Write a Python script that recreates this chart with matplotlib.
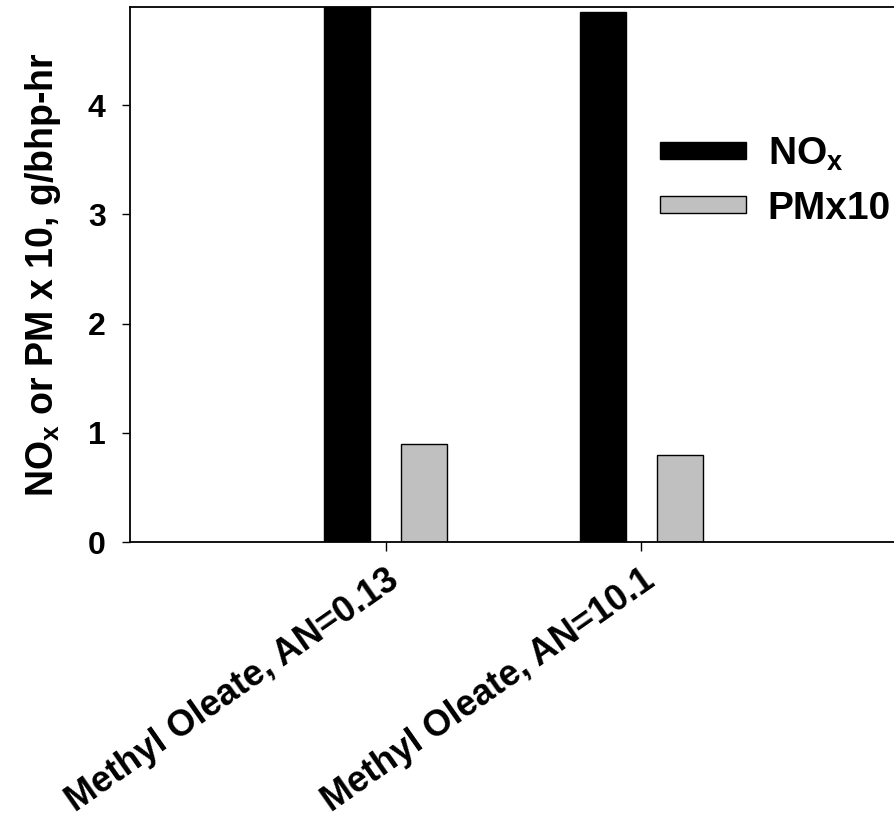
import matplotlib.pyplot as plt
import numpy as np

plt.rcParams['font.family'] = ['Liberation Sans', 'DejaVu Sans']
plt.rcParams['font.weight'] = 'bold'
plt.rcParams['mathtext.fontset'] = 'custom'
plt.rcParams['mathtext.rm'] = 'Liberation Sans:bold'
plt.rcParams['mathtext.bf'] = 'Liberation Sans:bold'

fuels = ["Methyl Oleate, AN=0.13", "Methyl Oleate, AN=10.1"]
nox = [4.90, 4.85]
pm_x10 = [0.90, 0.80]

fig = plt.figure(figsize=(8.94, 8.26), dpi=100)
ax = fig.add_axes([130 / 894, 284 / 826, 767 / 894, 535 / 826])

x = np.arange(1, len(fuels) + 1)
w = 0.18
off = 0.151
ax.bar(x - off, nox, w, color='black', edgecolor='black', linewidth=1, label=r'$\mathbf{NO_x}$')
ax.bar(x + off, pm_x10, w, color='#c0c0c0', edgecolor='black', linewidth=1, label='PMx10')

ax.set_xlim(0, 3)
ax.set_ylim(0, 4.9)
ax.set_xticks(x)
ax.set_xticklabels(fuels, rotation=35, ha='right', va='top', rotation_mode='anchor',
                   fontsize=26, fontweight='bold')
ax.set_yticks([0, 1, 2, 3, 4])
ax.tick_params(axis='y', labelsize=23, length=5.5, width=1, pad=12)
ax.tick_params(axis='x', length=6.5, width=1, pad=8)
for lab in ax.get_yticklabels():
    lab.set_fontweight('bold')

ax.spines['right'].set_visible(False)
for s in ['left', 'bottom', 'top']:
    ax.spines[s].set_linewidth(1.3)

ax.set_ylabel(r'NO$_\mathbf{x}$ or PM x 10, g/bhp-hr', fontsize=27, fontweight='bold', labelpad=18)

ax.legend(loc='upper left', bbox_to_anchor=(0.691, 0.759), frameon=False,
          handlelength=2.2, handleheight=0.3, handletextpad=0.57,
          labelspacing=0.45, borderpad=0, borderaxespad=0,
          prop={'weight': 'bold', 'size': 28})

fig.savefig('out.png', dpi=100)
